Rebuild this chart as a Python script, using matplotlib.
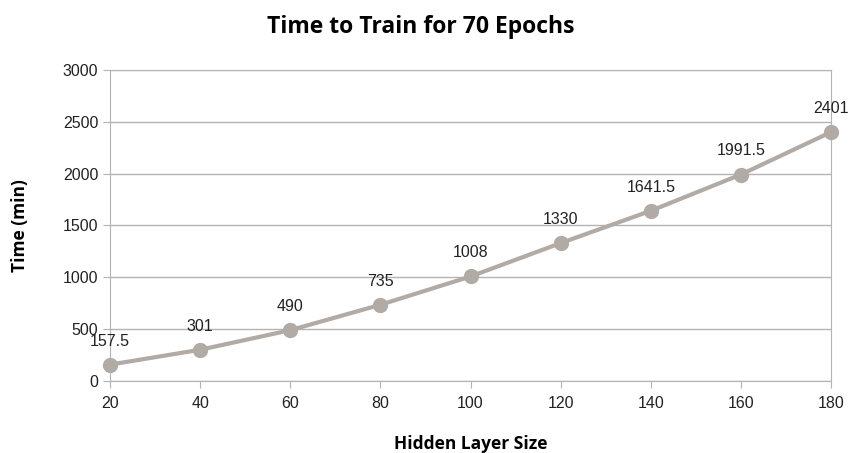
import matplotlib.pyplot as plt

# data
hidden_sizes = [20, 40, 60, 80, 100, 120, 140, 160, 180]
train_minutes = [157.5, 301, 490, 735, 1008, 1330, 1641.5, 1991.5, 2401]
labels = ["157.5", "301", "490", "735", "1008", "1330", "1641.5", "1991.5", "2401"]
y_ticks = [0, 500, 1000, 1500, 2000, 2500, 3000]

LINE_COLOR = "#b2aba5"
GRID_COLOR = "#b3b3b3"

plt.rcParams["font.family"] = ["Liberation Sans", "DejaVu Sans"]

fig = plt.figure(figsize=(8.54, 4.53), dpi=100)
ax = fig.add_axes([0.1288, 0.159, 0.8443, 0.6865])

ax.plot(hidden_sizes, train_minutes, "-o", color=LINE_COLOR, lw=3,
        markersize=10, zorder=3, clip_on=False)
for x, y, s in zip(hidden_sizes, train_minutes, labels):
    ax.annotate(s, (x, y), xytext=(0, 17), textcoords="offset points",
                ha="center", va="center", fontsize=11.5, color="#222222")

ax.set_xlim(20, 180)
ax.set_ylim(0, 3000)
ax.set_xticks(hidden_sizes)
ax.set_yticks(y_ticks)
ax.yaxis.grid(True, color=GRID_COLOR, lw=1)
ax.set_axisbelow(True)
for side in ["left", "right", "bottom", "top"]:
    ax.spines[side].set_color(GRID_COLOR)
ax.tick_params(axis="both", colors=GRID_COLOR, labelcolor="#222222",
               labelsize=11.5, length=5)
ax.tick_params(axis="x", pad=6)

bold_font = ["Open Sans", "DejaVu Sans"]
ax.set_xlabel("Hidden Layer Size", fontsize=12.5, fontweight="bold",
              family=bold_font, labelpad=17)
ax.set_ylabel("Time (min)", fontsize=12.5, fontweight="bold",
              family=bold_font, labelpad=24)
fig.text(0.493, 0.94, "Time to Train for 70 Epochs", ha="center", va="center",
         fontsize=16.5, fontweight="bold", family=bold_font)

fig.savefig("out.png", dpi=100)
